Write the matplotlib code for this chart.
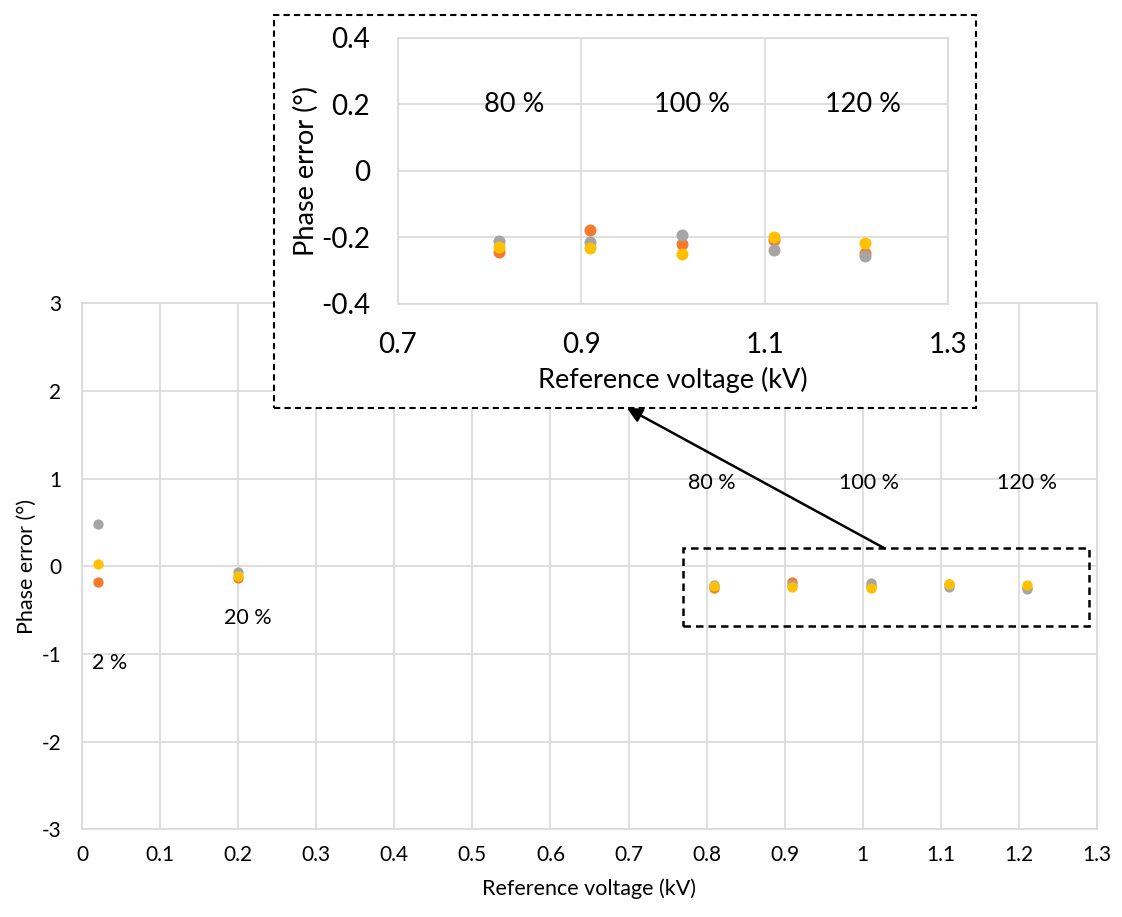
import numpy as np
import matplotlib
matplotlib.use("Agg")
import matplotlib.pyplot as plt
from matplotlib.patches import Rectangle
from matplotlib.ticker import FuncFormatter

plt.rcParams['font.family'] = ['Lato', 'DejaVu Sans']
plt.rcParams['axes.unicode_minus'] = False

# reference voltage (kV) for the 2 %, 20 %, 80 %, 90 %, 100 %, 110 %, 120 % points
voltage = [0.02, 0.20, 0.81, 0.91, 1.01, 1.11, 1.21]
# phase error (deg) of the three series
err_gray = [0.48, -0.06, -0.21, -0.213, -0.193, -0.238, -0.256]
err_orange = [-0.18, -0.13, -0.245, -0.178, -0.22, -0.207, -0.246]
err_yellow = [0.025, -0.11, -0.228, -0.233, -0.25, -0.198, -0.218]

main_labels = ["2 %", "20 %", "80 %", "100 %", "120 %"]
main_label_pos = [(0.036, -1.1), (0.2125, -0.585), (0.807, 0.95), (1.008, 0.95), (1.211, 0.95)]
inset_labels = ["80 %", "100 %", "120 %"]
inset_label_pos = [(0.827, 0.2), (1.021, 0.2), (1.207, 0.2)]

GRID = '#d9d9d9'
GRAY = '#a5a5a5'
ORANGE = '#f47b2c'
YELLOW = '#ffc000'

fmt = FuncFormatter(lambda v, p: '%g' % round(v, 2))


def style_axes(ax, size, xpad, ypad):
    ax.grid(True, color=GRID, linewidth=1.2)
    ax.set_axisbelow(True)
    for s in ax.spines.values():
        s.set_color(GRID)
        s.set_linewidth(1.2)
    ax.tick_params(length=0, labelsize=size, colors='#000000')
    ax.tick_params(axis='x', pad=xpad)
    ax.tick_params(axis='y', pad=ypad)
    ax.xaxis.set_major_formatter(fmt)
    ax.yaxis.set_major_formatter(fmt)


def draw_points(ax, s):
    ax.scatter(voltage, err_orange, s=s, color=ORANGE, zorder=3, linewidths=0)
    ax.scatter(voltage, err_gray, s=s, color=GRAY, zorder=3, linewidths=0)
    ax.scatter(voltage, err_yellow, s=s, color=YELLOW, zorder=3, linewidths=0)


fig = plt.figure(figsize=(11.22, 9.17), dpi=100)

# main chart
ax = fig.add_axes([0.0731, 0.0956, 0.9046, 0.5736])
style_axes(ax, 15, 11, 15)
ax.set_xlim(0, 1.3)
ax.set_ylim(-3, 3)
ax.set_xticks(np.arange(0, 1.31, 0.1))
ax.set_yticks(np.arange(-3, 3.1, 1))
draw_points(ax, 55)
for txt, (x, y) in zip(main_labels, main_label_pos):
    ax.text(x, y, txt, ha='center', va='center', fontsize=15.5)
ax.set_xlabel("Reference voltage (kV)", fontsize=15.5)
ax.set_ylabel("Phase error (°)", fontsize=15.5)
ax.xaxis.label.set_va('center')
ax.yaxis.label.set_va('center')
ax.xaxis.set_label_coords(0.5, -0.112)
ax.yaxis.set_label_coords(-0.054, 0.5)

# dashed zoom box in the main chart
ax.add_patch(Rectangle((0.77, -0.68), 0.52, 0.885, fill=False, edgecolor='black',
                       linestyle=(0, (3, 2)), linewidth=1.8, clip_on=False, zorder=4))

# arrow from the zoom box to the inset
ax.annotate("", xy=(0.5588, 0.5551), xycoords='figure fraction',
            xytext=(1.028, 0.205), textcoords='data',
            arrowprops=dict(arrowstyle='-|>', color='black', lw=1.8,
                            mutation_scale=22, shrinkA=0, shrinkB=0),
            annotation_clip=False)

# white dashed frame behind the inset
frame = Rectangle((0.2442, 0.5551), 0.6257, 0.4285, transform=fig.transFigure,
                  facecolor='white', edgecolor='black', linestyle=(0, (3, 2)),
                  linewidth=1.5, zorder=1)
fig.add_artist(frame)

# inset chart
axi = fig.add_axes([0.3547, 0.6685, 0.4902, 0.2901], zorder=2)
style_axes(axi, 20, 20, 20)
axi.set_xlim(0.7, 1.3)
axi.set_ylim(-0.4, 0.4)
axi.set_xticks([0.7, 0.9, 1.1, 1.3])
axi.set_yticks([-0.4, -0.2, 0, 0.2, 0.4])
draw_points(axi, 75)
for txt, (x, y) in zip(inset_labels, inset_label_pos):
    axi.text(x, y, txt, ha='center', va='center', fontsize=19.5)
axi.set_xlabel("Reference voltage (kV)", fontsize=19.5)
axi.set_ylabel("Phase error (°)", fontsize=19.5)
axi.xaxis.label.set_va('center')
axi.yaxis.label.set_va('center')
axi.xaxis.set_label_coords(0.5, -0.286)
axi.yaxis.set_label_coords(-0.167, 0.5)

fig.savefig("out.png", dpi=100)
